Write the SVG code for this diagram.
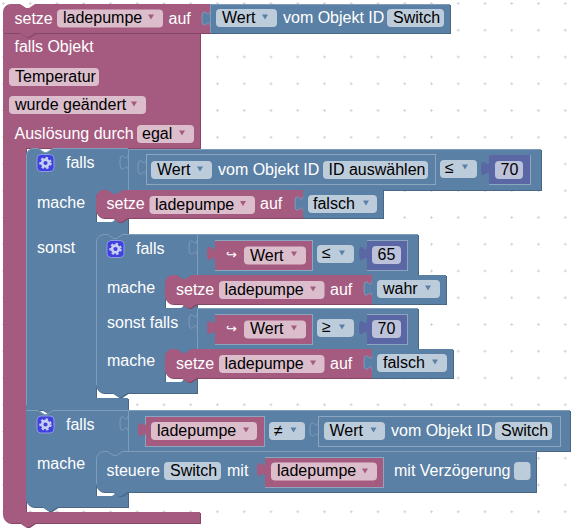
<svg xmlns="http://www.w3.org/2000/svg" width="574" height="531" viewBox="0 0 574 531">
<style>
text{font-family:"Liberation Sans","DejaVu Sans",sans-serif;font-size:16px;fill:#000}
.t{fill:#fff}
.ar{font-size:13px}
.p{fill:#a55b80;filter:drop-shadow(1px 1px 0 #844866)}
.b{fill:#5b80a5;filter:drop-shadow(1px 1px 0 #496684)}
.v{fill:#5b67a5}
.pf{fill:#a55b80}
.bf{fill:#5b80a5}
.fp{fill:#dbbdcc}
.fb{fill:#bdccdb}
.fv{fill:#bdc2db}
.hb{fill:none;stroke:#7f9cba;stroke-width:1}
.s{fill:none;stroke:#8ca6c0;stroke-width:1}
.tp{fill:#a55b80}
.tb{fill:#5b80a5}
.ic{fill:#4040e0;stroke:#8c9ce0;stroke-width:1}
.g1{fill:none;stroke:#c8d0f0;stroke-width:2.6}
.g2{fill:none;stroke:#c8d0f0;stroke-width:2;stroke-dasharray:2.4 2.4}
</style>
<defs>
<pattern id="grid" width="26.75" height="26.75" patternUnits="userSpaceOnUse" x="2" y="2">
<path d="M0,1.5h3M1.5,0v3" stroke="#d4d4d4" stroke-width="1" fill="none"/>
</pattern>
<path id="tri" d="M-3,-2.5h6l-3,5z"/>
<g id="gear"><rect x="0.5" y="0.5" width="17" height="17" rx="4" class="ic"/><circle cx="9" cy="9" r="3.4" class="g1"/><circle cx="9" cy="9" r="5.2" class="g2"/></g>
<path id="tab" d="M0,0c0,10 -8,-8 -8,7.5s8,-2.5 8,7.5z"/>
<path id="tabline" d="M0,0c0,10 -8,-8 -8,7.5s8,-2.5 8,7.5" class="hb"/>
</defs>
<rect width="574" height="531" fill="#fff"/>
<rect width="574" height="531" fill="url(#grid)"/>

<g id="falls-objekt">
<path class="p" d="M3,33H200V148H26V512H200V523H35l-6,4h-3l-6,-4H11a8,8 0 0 1 -8,-8Z"/>
<text class="t" x="14.500" y="52">falls Objekt</text>
<rect class="fp" x="9" y="68" width="90" height="18" rx="4"/><text x="15" y="81.500">Temperatur</text>
<rect class="fp" x="9" y="96" width="137" height="18" rx="4"/><text x="15" y="110">wurde geändert</text>
<use href="#tri" class="tp" x="134" y="104"/>
<text class="t" x="14.500" y="139">Auslösung durch</text>
<rect class="fp" x="137" y="125" width="57" height="18" rx="4"/><text x="142" y="139">egal</text>
<use href="#tri" class="tp" x="182" y="133"/>
</g>

<g id="setze-top">
<path class="p" d="M3,12a8,8 0 0 1 8,-8h9l6,4h3l6,-4H210V33H35l-6,4h-3l-6,-4H3Z"/>
<text class="t" x="14.500" y="23.500">setze</text>
<rect class="fp" x="57" y="9.500" width="106" height="18" rx="4"/><text x="63" y="23">ladepumpe</text>
<use href="#tri" class="tp" x="151" y="17"/>
<text class="t" x="168.500" y="23.500">auf</text>
</g>
<g id="wert-top">
<use href="#tab" class="bf" x="210" y="11"/>
<use href="#tabline" x="210" y="11"/>
<rect class="b" x="210" y="4" width="240" height="29"/>
<path class="hb" d="M210.500,33V4.500H450"/>
<rect class="fb" x="216" y="9" width="61" height="18" rx="4"/><text x="222" y="23">Wert</text>
<use href="#tri" class="tb" x="265" y="17"/>
<text class="t" x="283" y="23">vom Objekt ID</text>
<rect class="fb" x="387" y="9" width="57" height="18" rx="4"/><text x="393" y="23">Switch</text>
</g>

<g id="falls-1">
<path class="b" d="M26,156a8,8 0 0 1 8,-8h4l6,4h3l6,-4H128V195H96V222H112L118,218H128V239H96V398H128V410H57.500l-6,4h-3l-6,-4H26Z"/>
<path class="hb" d="M26.500,405V156a7.500,7.500 0 0 1 7.500,-7.500h4l6,4h3l6,-4H128"/>
<use href="#gear" x="36.500" y="154"/>
<text class="t" x="66" y="167.500">falls</text>
<text class="t" x="37" y="208">mache</text>
<text class="t" x="37" y="253">sonst</text>
</g>
<g id="compare-1">
<use href="#tab" class="bf" x="128" y="155"/>
<use href="#tabline" x="128" y="155"/>
<rect class="b" x="128" y="149" width="413" height="41"/>
<path class="hb" d="M128.500,190V149.500H541"/>
<rect class="s" x="146.500" y="154.500" width="289" height="30"/>
<use href="#tab" class="bf" x="146" y="160"/>
<use href="#tabline" x="146" y="160"/>
<rect class="fb" x="151" y="161" width="61" height="18" rx="4"/><text x="157" y="175">Wert</text>
<use href="#tri" class="tb" x="200" y="169"/>
<text class="t" x="218" y="175">vom Objekt ID</text>
<rect class="fb" x="323" y="161" width="105" height="18" rx="4"/><text x="328.500" y="175">ID auswählen</text>
<rect class="fb" x="440" y="160" width="37" height="18" rx="4"/><text x="445" y="173">≤</text>
<use href="#tri" class="tb" x="465" y="167"/>
<rect class="s" x="489.500" y="155.500" width="41" height="29"/>
<use href="#tab" class="v" x="489" y="161"/>
<rect class="v" x="489" y="155" width="41" height="29"/>
<rect class="fv" x="495" y="161" width="28" height="18" rx="4"/><text x="500.500" y="175">70</text>
</g>
<g id="setze-1">
<path class="p" d="M96,198a8,8 0 0 1 8,-8h3.500l6,4h3l6,-4H303V218H127.500l-6,4h-3l-6,-4H104a8,8 0 0 1 -8,-8Z"/>
<text class="t" x="106.500" y="208.500">setze</text>
<rect class="fp" x="149.500" y="196" width="105.500" height="18" rx="4"/><text x="155" y="209.500">ladepumpe</text>
<use href="#tri" class="tp" x="243" y="203.500"/>
<text class="t" x="260" y="208.500">auf</text>
</g>
<g id="falsch-1">
<use href="#tab" class="bf" x="303" y="196"/>
<use href="#tabline" x="303" y="196"/>
<rect class="b" x="303" y="190" width="80" height="28"/>
<rect class="fb" x="308" y="195" width="69" height="18" rx="4"/><text x="313" y="209">falsch</text>
<use href="#tri" class="tb" x="366" y="203"/>
</g>

<g id="falls-nested">
<path class="b" d="M96,242a8,8 0 0 1 8,-8h3.500l6,4h3l6,-4H197V280H165V308H181L186,304H197V354H165V382H181L186,378H197V393H127.500l-6,4h-3l-6,-4H104a8,8 0 0 1 -8,-8Z"/>
<path class="hb" d="M96.500,385V242a7.500,7.500 0 0 1 7.500,-7.500h3.500l6,4h3l6,-4H197"/>
<use href="#gear" x="106.500" y="240"/>
<text class="t" x="136" y="253.500">falls</text>
<text class="t" x="107" y="293">mache</text>
<text class="t" x="107" y="328">sonst falls</text>
<text class="t" x="107" y="366">mache</text>
</g>
<g id="compare-2">
<use href="#tab" class="bf" x="197" y="240"/>
<use href="#tabline" x="197" y="240"/>
<rect class="b" x="197" y="234" width="221" height="41"/>
<path class="hb" d="M197.500,275V234.500H418"/>
<rect class="s" x="215.500" y="240.500" width="97" height="30"/>
<use href="#tab" class="pf" x="215" y="246"/>
<rect class="pf" x="215" y="241" width="97" height="29"/>
<text class="t ar" x="226" y="259">↪</text>
<rect class="fp" x="244" y="246.500" width="62" height="18" rx="4"/><text x="250" y="260.500">Wert</text>
<use href="#tri" class="tp" x="294" y="254"/>
<rect class="fb" x="317" y="245" width="37" height="18" rx="4"/><text x="322" y="258">≤</text>
<use href="#tri" class="tb" x="342" y="253"/>
<rect class="s" x="367.500" y="240.500" width="40" height="30"/>
<use href="#tab" class="v" x="367" y="246"/>
<rect class="v" x="367" y="241" width="40" height="29"/>
<rect class="fv" x="372" y="246" width="29" height="18" rx="4"/><text x="377.500" y="260">65</text>
</g>
<g id="setze-2">
<path class="p" d="M165,283a8,8 0 0 1 8,-8h3.500l6,4h3l6,-4H372V304H196.500l-6,4h-3l-6,-4H173a8,8 0 0 1 -8,-8Z"/>
<text class="t" x="176" y="294.500">setze</text>
<rect class="fp" x="219" y="281" width="105.500" height="18" rx="4"/><text x="224.500" y="294.500">ladepumpe</text>
<use href="#tri" class="tp" x="313" y="289"/>
<text class="t" x="330" y="294.500">auf</text>
</g>
<g id="wahr">
<use href="#tab" class="bf" x="372" y="281"/>
<use href="#tabline" x="372" y="281"/>
<rect class="b" x="372" y="275" width="74" height="29"/>
<rect class="fb" x="377" y="280" width="63" height="18" rx="4"/><text x="383" y="294">wahr</text>
<use href="#tri" class="tb" x="428" y="288"/>
</g>
<g id="compare-3">
<use href="#tab" class="bf" x="197" y="314"/>
<use href="#tabline" x="197" y="314"/>
<rect class="b" x="197" y="308" width="221" height="41"/>
<path class="hb" d="M197.500,349V308.500H418"/>
<rect class="s" x="215.500" y="314.500" width="97" height="30"/>
<use href="#tab" class="pf" x="215" y="320"/>
<rect class="pf" x="215" y="315" width="97" height="29"/>
<text class="t ar" x="226" y="333">↪</text>
<rect class="fp" x="244" y="320.500" width="62" height="18" rx="4"/><text x="250" y="334">Wert</text>
<use href="#tri" class="tp" x="294" y="328"/>
<rect class="fb" x="317" y="319" width="37" height="18" rx="4"/><text x="322" y="332">≥</text>
<use href="#tri" class="tb" x="342" y="327"/>
<rect class="s" x="367.500" y="314.500" width="40" height="30"/>
<use href="#tab" class="v" x="367" y="320"/>
<rect class="v" x="367" y="315" width="40" height="29"/>
<rect class="fv" x="372" y="320" width="29" height="18" rx="4"/><text x="377.500" y="334">70</text>
</g>
<g id="setze-3">
<path class="p" d="M165,357a8,8 0 0 1 8,-8h3.500l6,4h3l6,-4H372V378H196.500l-6,4h-3l-6,-4H173a8,8 0 0 1 -8,-8Z"/>
<text class="t" x="176" y="368.500">setze</text>
<rect class="fp" x="219" y="355" width="105.500" height="18" rx="4"/><text x="224.500" y="368.500">ladepumpe</text>
<use href="#tri" class="tp" x="313" y="363"/>
<text class="t" x="330" y="368.500">auf</text>
</g>
<g id="falsch-3">
<use href="#tab" class="bf" x="372" y="355"/>
<use href="#tabline" x="372" y="355"/>
<rect class="b" x="372" y="349" width="81" height="29"/>
<rect class="fb" x="377" y="354" width="70" height="18" rx="4"/><text x="383" y="368">falsch</text>
<use href="#tri" class="tb" x="435" y="362"/>
</g>

<g id="falls-2">
<path class="b" d="M26,410H38l6,4h3l6,-4H128V456H96V496H112L118,492H128V507H57.500l-6,4h-3l-6,-4H34a8,8 0 0 1 -8,-8Z"/>
<path class="hb" d="M26,410.500H38l6,4h3l6,-4H128"/>
<use href="#gear" x="36.500" y="415.500"/>
<text class="t" x="66" y="429.500">falls</text>
<text class="t" x="37" y="468.500">mache</text>
</g>
<g id="compare-4">
<use href="#tab" class="bf" x="128" y="416"/>
<use href="#tabline" x="128" y="416"/>
<rect class="b" x="128" y="410" width="442" height="41"/>
<path class="hb" d="M128.500,451V410.500H570"/>
<rect class="s" x="145.500" y="416.500" width="119" height="30"/>
<use href="#tab" class="pf" x="146" y="422"/>
<rect class="pf" x="146" y="417" width="118" height="29"/>
<rect class="fp" x="151" y="422" width="106" height="18" rx="4"/><text x="157" y="436">ladepumpe</text>
<use href="#tri" class="tp" x="246" y="430"/>
<rect class="fb" x="269" y="422" width="36" height="18" rx="4"/><text x="274" y="436">≠</text>
<use href="#tri" class="tb" x="293.500" y="430"/>
<rect class="s" x="318.500" y="416.500" width="242" height="30"/>
<use href="#tab" class="bf" x="318" y="422"/>
<use href="#tabline" x="318" y="422"/>
<rect class="fb" x="324" y="422" width="61" height="18" rx="4"/><text x="329.500" y="436">Wert</text>
<use href="#tri" class="tb" x="373.500" y="430"/>
<text class="t" x="391" y="436">vom Objekt ID</text>
<rect class="fb" x="495" y="422" width="57" height="18" rx="4"/><text x="501" y="436">Switch</text>
</g>
<g id="steuere">
<path class="b" d="M96,459a8,8 0 0 1 8,-8h3.500l6,4h3l6,-4H536V492H127.500l-6,4h-3l-6,-4H104a8,8 0 0 1 -8,-8Z"/>
<path class="hb" d="M96.500,484V459a7.500,7.500 0 0 1 7.500,-7.500h3.500l6,4h3l6,-4H536"/>
<text class="t" x="106.500" y="476">steuere</text>
<rect class="fb" x="164" y="462" width="57" height="18" rx="4"/><text x="170" y="476">Switch</text>
<text class="t" x="227" y="476">mit</text>
<rect class="s" x="265.500" y="457.500" width="118" height="30"/>
<use href="#tab" class="pf" x="265" y="462"/>
<rect class="pf" x="265" y="458" width="118" height="29"/>
<rect class="fp" x="271" y="462.500" width="106" height="18" rx="4"/><text x="277" y="476">ladepumpe</text>
<use href="#tri" class="tp" x="365" y="471"/>
<text class="t" x="394" y="476">mit Verzögerung</text>
<rect class="fb" x="514" y="462" width="16.500" height="18" rx="4"/>
</g>
</svg>
